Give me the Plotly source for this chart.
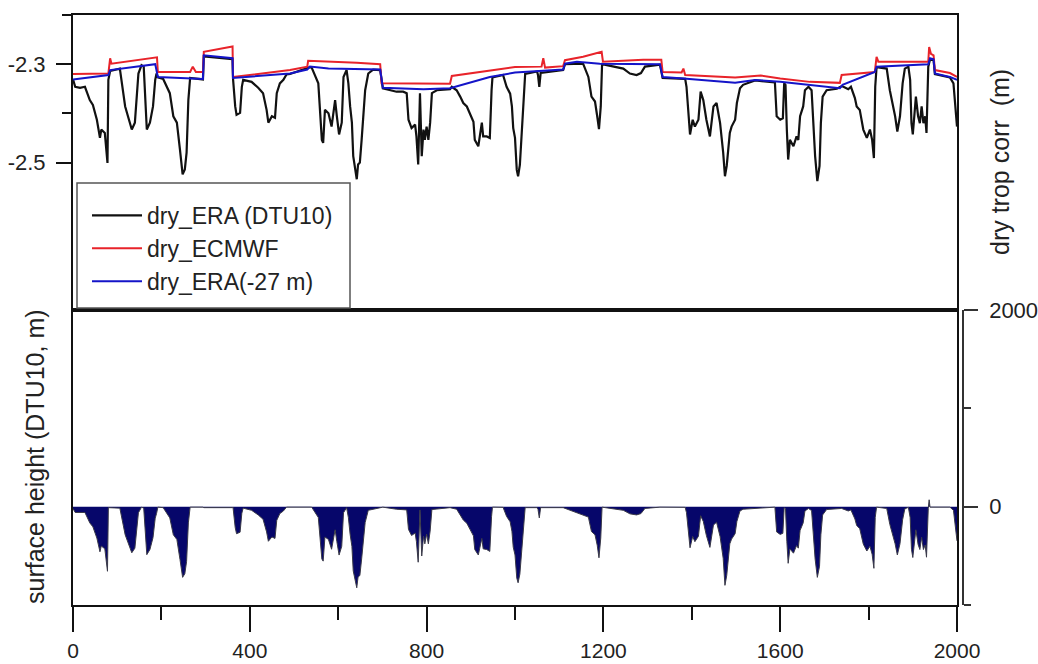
import plotly.graph_objects as go

# ---------------- data ----------------
# dry_ERA (DTU10)  -- black line, top panel
era_dtu_x = [0, 5, 16, 27, 38, 45, 54, 61, 64, 72,
             78, 80, 84, 106, 118, 133, 140, 148, 155, 160,
             167, 174, 181, 186, 189, 192, 204, 219, 227, 235,
             242, 248, 253, 257, 261, 265, 294, 296, 361, 362,
             367, 370, 378, 382, 385, 404, 419, 430, 438, 442,
             450, 457, 461, 468, 476, 483, 491, 536, 540, 551,
             555, 563, 566, 570, 578, 585, 593, 597, 602, 608,
             612, 619, 623, 627, 631, 634, 638, 642, 645, 649,
             653, 657, 661, 668, 679, 695, 701, 732, 747, 755,
             759, 766, 774, 777, 781, 785, 789, 793, 796, 800,
             804, 808, 812, 823, 853, 857, 868, 876, 883, 891,
             898, 906, 909, 917, 925, 928, 936, 943, 947, 949,
             973, 981, 989, 993, 996, 1000, 1004, 1007, 1011, 1015,
             1019, 1023, 1050, 1052, 1055, 1058, 1109, 1113, 1154, 1166,
             1173, 1181, 1186, 1190, 1194, 1197, 1245, 1260, 1275, 1285,
             1294, 1328, 1334, 1385, 1388, 1396, 1402, 1407, 1415, 1420,
             1426, 1433, 1441, 1449, 1456, 1464, 1471, 1475, 1479, 1486,
             1490, 1498, 1502, 1509, 1516, 1543, 1588, 1592, 1600, 1606,
             1609, 1612, 1615, 1618, 1622, 1630, 1637, 1641, 1645, 1652,
             1656, 1664, 1671, 1679, 1684, 1689, 1692, 1696, 1705, 1728,
             1739, 1743, 1754, 1760, 1769, 1773, 1780, 1788, 1796, 1803,
             1808, 1812, 1815, 1818, 1841, 1848, 1860, 1865, 1871, 1877,
             1882, 1890, 1894, 1897, 1900, 1904, 1907, 1912, 1916, 1920,
             1924, 1928, 1931, 1935, 1939, 1947, 1950, 1984, 1992, 2000]
era_dtu_y = [-2.331, -2.346, -2.348, -2.346, -2.373, -2.383, -2.413, -2.450, -2.433, -2.440,
             -2.501, -2.332, -2.314, -2.309, -2.386, -2.433, -2.419, -2.319, -2.302, -2.305,
             -2.433, -2.419, -2.386, -2.332, -2.319, -2.327, -2.330, -2.359, -2.406, -2.419,
             -2.474, -2.524, -2.514, -2.480, -2.373, -2.328, -2.331, -2.284, -2.290, -2.329,
             -2.386, -2.403, -2.399, -2.346, -2.332, -2.336, -2.348, -2.359, -2.393, -2.419,
             -2.406, -2.409, -2.359, -2.339, -2.332, -2.321, -2.320, -2.306, -2.307, -2.329,
             -2.339, -2.454, -2.460, -2.393, -2.400, -2.427, -2.373, -2.406, -2.443, -2.419,
             -2.326, -2.312, -2.339, -2.386, -2.419, -2.487, -2.514, -2.534, -2.504, -2.500,
             -2.454, -2.399, -2.353, -2.319, -2.311, -2.312, -2.349, -2.356, -2.356, -2.359,
             -2.413, -2.430, -2.423, -2.447, -2.504, -2.359, -2.487, -2.433, -2.454, -2.427,
             -2.454, -2.419, -2.359, -2.353, -2.351, -2.346, -2.353, -2.366, -2.379, -2.386,
             -2.399, -2.417, -2.454, -2.467, -2.419, -2.447, -2.447, -2.450, -2.353, -2.327,
             -2.322, -2.346, -2.360, -2.386, -2.430, -2.450, -2.515, -2.528, -2.505, -2.440,
             -2.360, -2.320, -2.315, -2.322, -2.346, -2.318, -2.312, -2.300, -2.299, -2.326,
             -2.366, -2.376, -2.406, -2.432, -2.386, -2.300, -2.309, -2.319, -2.322, -2.318,
             -2.305, -2.301, -2.328, -2.330, -2.346, -2.443, -2.413, -2.427, -2.413, -2.356,
             -2.373, -2.413, -2.447, -2.386, -2.379, -2.420, -2.480, -2.528, -2.507, -2.440,
             -2.427, -2.413, -2.379, -2.349, -2.342, -2.333, -2.337, -2.406, -2.413, -2.410,
             -2.339, -2.342, -2.433, -2.494, -2.454, -2.467, -2.447, -2.454, -2.406, -2.386,
             -2.353, -2.346, -2.353, -2.487, -2.538, -2.507, -2.420, -2.366, -2.353, -2.350,
             -2.345, -2.346, -2.351, -2.346, -2.369, -2.386, -2.393, -2.433, -2.450, -2.433,
             -2.454, -2.491, -2.346, -2.306, -2.309, -2.353, -2.406, -2.437, -2.406, -2.339,
             -2.309, -2.305, -2.332, -2.420, -2.443, -2.406, -2.366, -2.406, -2.420, -2.386,
             -2.420, -2.406, -2.440, -2.305, -2.290, -2.292, -2.320, -2.327, -2.339, -2.427]

# dry_ECMWF -- red line
ecmwf_x = [0, 80, 84, 87, 190, 192, 265, 271, 278, 294,
           296, 361, 362, 491, 530, 532, 642, 695, 698, 853,
           857, 951, 1000, 1060, 1064, 1068, 1109, 1113, 1154, 1196,
           1199, 1290, 1331, 1334, 1377, 1381, 1385, 1498, 1556, 1600,
           1667, 1735, 1739, 1814, 1818, 1822, 1935, 1937, 1941, 1947,
           1950, 1984, 2000]
ecmwf_y = [-2.320, -2.319, -2.288, -2.299, -2.286, -2.316, -2.316, -2.305, -2.316, -2.316,
           -2.275, -2.264, -2.326, -2.312, -2.305, -2.293, -2.297, -2.300, -2.339, -2.340,
           -2.324, -2.312, -2.306, -2.305, -2.288, -2.307, -2.304, -2.292, -2.285, -2.275,
           -2.295, -2.291, -2.291, -2.316, -2.317, -2.309, -2.322, -2.327, -2.323, -2.329,
           -2.336, -2.338, -2.322, -2.316, -2.285, -2.295, -2.295, -2.265, -2.279, -2.282,
           -2.312, -2.318, -2.326]

# dry_ERA(-27 m) -- blue line
era27_x = [0, 80, 84, 186, 192, 294, 296, 361, 362, 491,
           530, 536, 578, 695, 701, 793, 853, 943, 1000, 1064,
           1109, 1113, 1140, 1192, 1328, 1334, 1381, 1498, 1543, 1600,
           1735, 1741, 1814, 1818, 1935, 1939, 1947, 1950, 1984, 2000]
era27_y = [-2.331, -2.322, -2.312, -2.300, -2.326, -2.330, -2.282, -2.288, -2.328, -2.319,
           -2.311, -2.305, -2.309, -2.311, -2.348, -2.351, -2.349, -2.326, -2.317, -2.314,
           -2.311, -2.299, -2.295, -2.299, -2.300, -2.326, -2.329, -2.338, -2.332, -2.336,
           -2.349, -2.342, -2.316, -2.305, -2.300, -2.288, -2.290, -2.319, -2.326, -2.332]

# surface height (DTU10, m) -- bottom panel
height_x = [0, 5, 27, 38, 45, 54, 61, 64, 72, 78,
            80, 106, 118, 133, 140, 148, 155, 160, 167, 174,
            181, 186, 189, 192, 204, 219, 227, 235, 242, 248,
            253, 257, 261, 265, 294, 296, 361, 362, 367, 370,
            378, 382, 385, 404, 419, 430, 438, 442, 450, 457,
            461, 468, 476, 483, 540, 551, 555, 563, 566, 570,
            578, 585, 593, 597, 602, 608, 612, 619, 623, 627,
            631, 634, 638, 642, 645, 649, 653, 657, 661, 668,
            695, 701, 732, 755, 759, 766, 774, 777, 781, 785,
            789, 793, 796, 800, 804, 808, 812, 853, 868, 876,
            883, 891, 898, 906, 909, 917, 925, 928, 936, 943,
            947, 949, 973, 981, 989, 993, 996, 1000, 1004, 1007,
            1011, 1015, 1019, 1023, 1050, 1052, 1055, 1058, 1109, 1166,
            1173, 1181, 1186, 1190, 1194, 1197, 1245, 1260, 1275, 1285,
            1294, 1328, 1385, 1388, 1396, 1402, 1407, 1415, 1420, 1426,
            1433, 1441, 1449, 1456, 1464, 1471, 1475, 1479, 1486, 1490,
            1498, 1502, 1509, 1516, 1588, 1592, 1600, 1606, 1609, 1612,
            1615, 1618, 1622, 1630, 1637, 1641, 1645, 1652, 1656, 1664,
            1671, 1679, 1684, 1689, 1692, 1696, 1705, 1739, 1754, 1760,
            1769, 1773, 1780, 1788, 1796, 1803, 1808, 1812, 1815, 1818,
            1841, 1848, 1860, 1865, 1871, 1877, 1882, 1890, 1894, 1897,
            1900, 1904, 1907, 1912, 1916, 1920, 1924, 1928, 1931, 1935,
            1937, 1939, 1984, 1992, 2000]
height_y = [-20, -59, -59, -165, -205, -319, -459, -400, -429, -657,
            -10, -15, -286, -469, -422, -62, -5, -15, -488, -436,
            -315, -117, -70, -5, -10, -114, -286, -334, -535, -719,
            -682, -557, -165, -5, -5, -10, -10, -5, -213, -275,
            -260, -66, -15, -37, -84, -128, -257, -352, -308, -323,
            -139, -70, -44, -5, -5, -73, -110, -532, -554, -308,
            -334, -433, -235, -356, -492, -403, -62, -10, -110, -282,
            -403, -653, -752, -825, -715, -700, -532, -330, -161, -37,
            -5, -5, -26, -33, -231, -293, -268, -356, -565, -33,
            -502, -301, -378, -279, -378, -249, -29, -10, -26, -81,
            -136, -169, -224, -297, -436, -491, -323, -429, -436, -455,
            -99, -5, -7, -99, -154, -249, -411, -491, -726, -774,
            -686, -447, -154, -10, -10, -26, -114, -10, -10, -106,
            -253, -286, -392, -520, -319, -5, -37, -73, -84, -70,
            -18, -5, -7, -62, -418, -304, -356, -301, -92, -150,
            -293, -414, -187, -158, -304, -525, -800, -700, -378, -330,
            -275, -150, -44, -26, -5, -257, -282, -271, -10, -22,
            -352, -576, -429, -473, -396, -422, -242, -165, -44, -18,
            -40, -532, -719, -605, -286, -84, -29, -18, -44, -33,
            -125, -191, -224, -381, -451, -403, -484, -627, -110, -5,
            -18, -180, -378, -491, -378, -132, -22, -7, -110, -433,
            -517, -381, -235, -385, -436, -312, -436, -389, -514, -18,
            70, -5, -5, -37, -348]

x_ticks = [0, 400, 800, 1200, 1600, 2000]
x_minor = [200, 600, 1000, 1400, 1800]
corr_ticks = [-2.3, -2.5]
corr_minor = [-2.2, -2.4]
height_ticks = [0, 2000]
height_minor = [-1000, 1000]

# ---------------- figure ----------------
FONT = "Arial, Liberation Sans, sans-serif"
W, H = 1038, 664
L, R, T, B = 73, 75, 15, 59
pw, ph = W - L - R, H - T - B
xdom_end = (957 - L) / pw

fig = go.Figure()

fig.add_trace(go.Scatter(x=height_x, y=height_y, xaxis="x", yaxis="y",
                         mode="lines", fill="tozeroy", fillcolor="#06066a",
                         line=dict(color="#3a3a48", width=1), showlegend=False,
                         hoverinfo="skip"))
fig.add_trace(go.Scatter(x=height_x, y=height_y, xaxis="x", yaxis="y3",
                         mode="lines", line=dict(color="rgba(0,0,0,0)", width=0),
                         showlegend=False, hoverinfo="skip"))

fig.add_trace(go.Scatter(x=era_dtu_x, y=era_dtu_y, xaxis="x2", yaxis="y2",
                         mode="lines", name="dry_ERA (DTU10)", legendgroup="a",
                         line=dict(color="#111111", width=2.2)))
fig.add_trace(go.Scatter(x=ecmwf_x, y=ecmwf_y, xaxis="x2", yaxis="y2",
                         mode="lines", name="dry_ECMWF", legendgroup="b",
                         line=dict(color="#e8232a", width=2)))
fig.add_trace(go.Scatter(x=era27_x, y=era27_y, xaxis="x2", yaxis="y2",
                         mode="lines", name="dry_ERA(-27 m)", legendgroup="c",
                         line=dict(color="#1414c8", width=2)))

tickfont = dict(family=FONT, size=22, color="#222222")
xtickfont = dict(family=FONT, size=21, color="#222222")

fig.update_layout(
    width=W, height=H,
    margin=dict(l=L, r=R, t=T, b=B, pad=0, autoexpand=False),
    paper_bgcolor="white", plot_bgcolor="white",
    font=dict(family=FONT, color="#222222"),
    xaxis=dict(domain=[0, xdom_end], anchor="y", range=[0, 2000], automargin=False,
               showline=True, linecolor="#111111", linewidth=2, mirror=True,
               ticks="outside", tickvals=x_ticks, ticklen=25, tickwidth=2,
               tickcolor="#111111", tickfont=xtickfont, ticklabelstandoff=1,
               minor=dict(tickvals=x_minor, ticks="outside", ticklen=13,
                          tickwidth=2, tickcolor="#111111", showgrid=False),
               showgrid=False, zeroline=False),
    xaxis2=dict(domain=[0, xdom_end], anchor="y2", range=[0, 2000], matches="x",
                automargin=False,
                showline=True, linecolor="#111111", linewidth=2, mirror=True,
                ticks="", showticklabels=False, showgrid=False, zeroline=False),
    yaxis=dict(domain=[0, 0.5], anchor="x", range=[-1000, 2000], automargin=False,
               showline=True, linecolor="#111111", linewidth=2, mirror=True,
               ticks="", showticklabels=False, showgrid=False, zeroline=False),
    yaxis3=dict(overlaying="y", anchor="free", position=1, side="right",
                automargin=False,
                range=[-1000, 2000], showline=True, linecolor="#333333", linewidth=1.5,
                ticks="outside", tickvals=height_ticks, ticklen=14, tickwidth=1.5,
                tickcolor="#333333", tickfont=tickfont, ticklabelstandoff=7,
                minor=dict(tickvals=height_minor, ticks="outside", ticklen=7,
                           tickwidth=1.5, tickcolor="#333333", showgrid=False),
                showgrid=False, zeroline=False),
    yaxis2=dict(domain=[0.5, 1], anchor="x2", range=[-2.8, -2.2], automargin=False,
                showline=True, linecolor="#111111", linewidth=2, mirror=True,
                ticks="outside", tickvals=corr_ticks, ticktext=["-2.3", "-2.5"],
                ticklen=15, tickwidth=2, tickcolor="#111111", tickfont=tickfont,
                ticklabelstandoff=6,
                minor=dict(tickvals=corr_minor, ticks="outside", ticklen=9,
                           tickwidth=2, tickcolor="#111111", showgrid=False),
                showgrid=False, zeroline=False),
    legend=dict(x=(87 - L) / pw, y=(H - B - 194) / ph, xanchor="left", yanchor="top",
                bgcolor="rgba(0,0,0,0)", borderwidth=0, tracegroupgap=1,
                itemwidth=50, traceorder="normal",
                font=dict(family=FONT, size=23, color="#222222")),
    shapes=[dict(type="rect", xref="paper", yref="paper",
                 x0=(77 - L) / pw, x1=(350 - L) / pw,
                 y0=(H - B - 308) / ph, y1=(H - B - 183) / ph,
                 line=dict(color="#555555", width=1.5), fillcolor="white",
                 layer="above")],
    annotations=[
        dict(text="dry trop corr\u00a0 (m)", xref="paper", yref="paper",
             x=(1000 - L) / pw, y=(H - B - 162) / ph, textangle=-90,
             showarrow=False, xanchor="center", yanchor="middle",
             font=dict(family=FONT, size=25, color="#222222")),
        dict(text="surface height (DTU10, m)", xref="paper", yref="paper",
             x=(35 - L) / pw, y=(H - B - 457) / ph, textangle=-90,
             showarrow=False, xanchor="center", yanchor="middle",
             font=dict(family=FONT, size=25, color="#222222")),
    ],
)

fig.write_html("out.html")
